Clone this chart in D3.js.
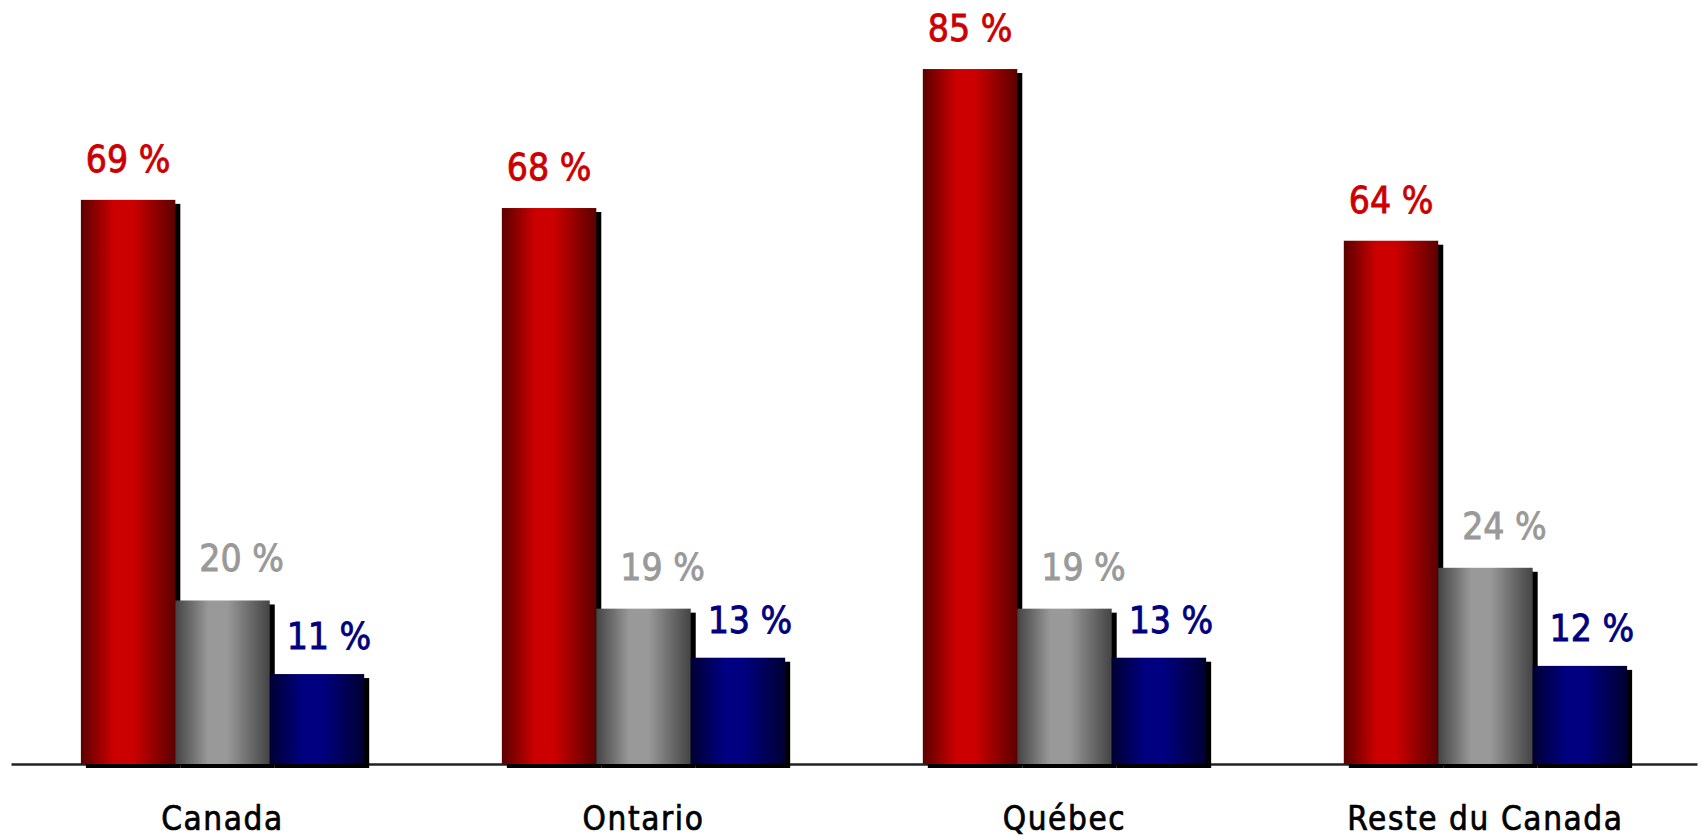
<!DOCTYPE html>
<html>
<head>
<meta charset="utf-8">
<script src="https://cdn.jsdelivr.net/npm/d3@7"></script>
<style>
  body { margin: 0; background: #fff; }
  svg { display: block; }
</style>
</head>
<body>
<div id="chart"></div>
<script>
// data
const categories = ['Canada', 'Ontario', 'Québec', 'Reste du Canada']
const series = ['rouge', 'gris', 'bleu']
const redValues = [69, 68, 85, 64]
const grayValues = [20, 19, 19, 24]
const blueValues = [11, 13, 13, 12]

// canvas
const width = 1703,
  height = 838,
  baseY = 764

const svg = d3.select('#chart')
  .append('svg')
  .attr('width', width)
  .attr('height', height)

// colours / look for each series
const look = {
  rouge: { edge: '#5c0000', mid: '#cc0000', label: '#cc0000', dx: 0, gap: 28 },
  gris: { edge: '#444444', mid: '#999999', label: '#999999', dx: 19, gap: 29 },
  bleu: { edge: '#000033', mid: '#000080', label: '#000080', dx: 12, gap: 25 }
}

const defs = svg.append('defs')
series.forEach(s => {
  const g = defs.append('linearGradient')
    .attr('id', 'grad-' + s)
    .attr('x1', '0%').attr('x2', '100%')
    .attr('y1', '0%').attr('y2', '0%')
  g.append('stop').attr('offset', '0%').attr('stop-color', look[s].edge)
  g.append('stop').attr('offset', '35%').attr('stop-color', look[s].mid)
  g.append('stop').attr('offset', '55%').attr('stop-color', look[s].mid)
  g.append('stop').attr('offset', '100%').attr('stop-color', look[s].edge)
})

// scales
const x0 = d3.scaleBand()
  .domain(categories)
  .range([11, 1697])
  .paddingInner(0.327)
  .paddingOuter(0.166)

const x1 = d3.scaleBand()
  .domain(series)
  .range([0, x0.bandwidth()])
  .padding(0)

const yScale = d3.scaleLinear()
  .domain([0, 100])
  .range([baseY, baseY - 817.6])

const rows = categories.map((c, i) => ({
  cat: c,
  vals: [
    { key: 'rouge', v: redValues[i] },
    { key: 'gris', v: grayValues[i] },
    { key: 'bleu', v: blueValues[i] }
  ]
}))

// axis line + category labels
const xAxis = d3.axisBottom(x0).tickSize(0).tickSizeOuter(0)
const axisG = svg.append('g')
  .attr('transform', `translate(0,${baseY})`)
  .call(xAxis)
axisG.select('.domain')
  .attr('stroke', '#222')
  .attr('stroke-width', 2.5)
axisG.selectAll('.tick text')
  .attr('y', 66)
  .attr('dy', null)
  .attr('fill', '#000')
  .attr('stroke', '#000')
  .attr('stroke-width', 0.7)
  .style('font-family', '"DejaVu Sans Condensed", "DejaVu Sans", sans-serif')
  .style('font-size', '33px')
  .style('letter-spacing', '1.6px')

// bars
const groups = svg.selectAll('g.grp')
  .data(rows)
  .enter()
  .append('g')
  .attr('class', 'grp')
  .attr('transform', d => `translate(${x0(d.cat)},0)`)

const bar = groups.selectAll('g.bar')
  .data(d => d.vals)
  .enter()
  .append('g')
  .attr('class', 'bar')

// shadow first, then the bar on top
bar.append('rect')
  .attr('x', d => x1(d.key) + 5)
  .attr('y', d => yScale(d.v) + 4)
  .attr('width', x1.bandwidth())
  .attr('height', d => baseY - yScale(d.v))
  .attr('fill', '#000')

bar.append('rect')
  .attr('x', d => x1(d.key))
  .attr('y', d => yScale(d.v))
  .attr('width', x1.bandwidth())
  .attr('height', d => baseY - yScale(d.v))
  .attr('fill', d => `url(#grad-${d.key})`)

// value labels
groups.selectAll('text.val')
  .data(d => d.vals)
  .enter()
  .append('text')
  .attr('class', 'val')
  .attr('x', d => x1(d.key) + x1.bandwidth() / 2 + look[d.key].dx)
  .attr('y', d => yScale(d.v) - look[d.key].gap)
  .attr('text-anchor', 'middle')
  .attr('fill', d => look[d.key].label)
  .attr('stroke', d => look[d.key].label)
  .attr('stroke-width', 0.8)
  .style('font-family', '"DejaVu Sans Condensed", "DejaVu Sans", sans-serif')
  .style('font-size', '37px')
  .text(d => d.v + ' %')
</script>
</body>
</html>
